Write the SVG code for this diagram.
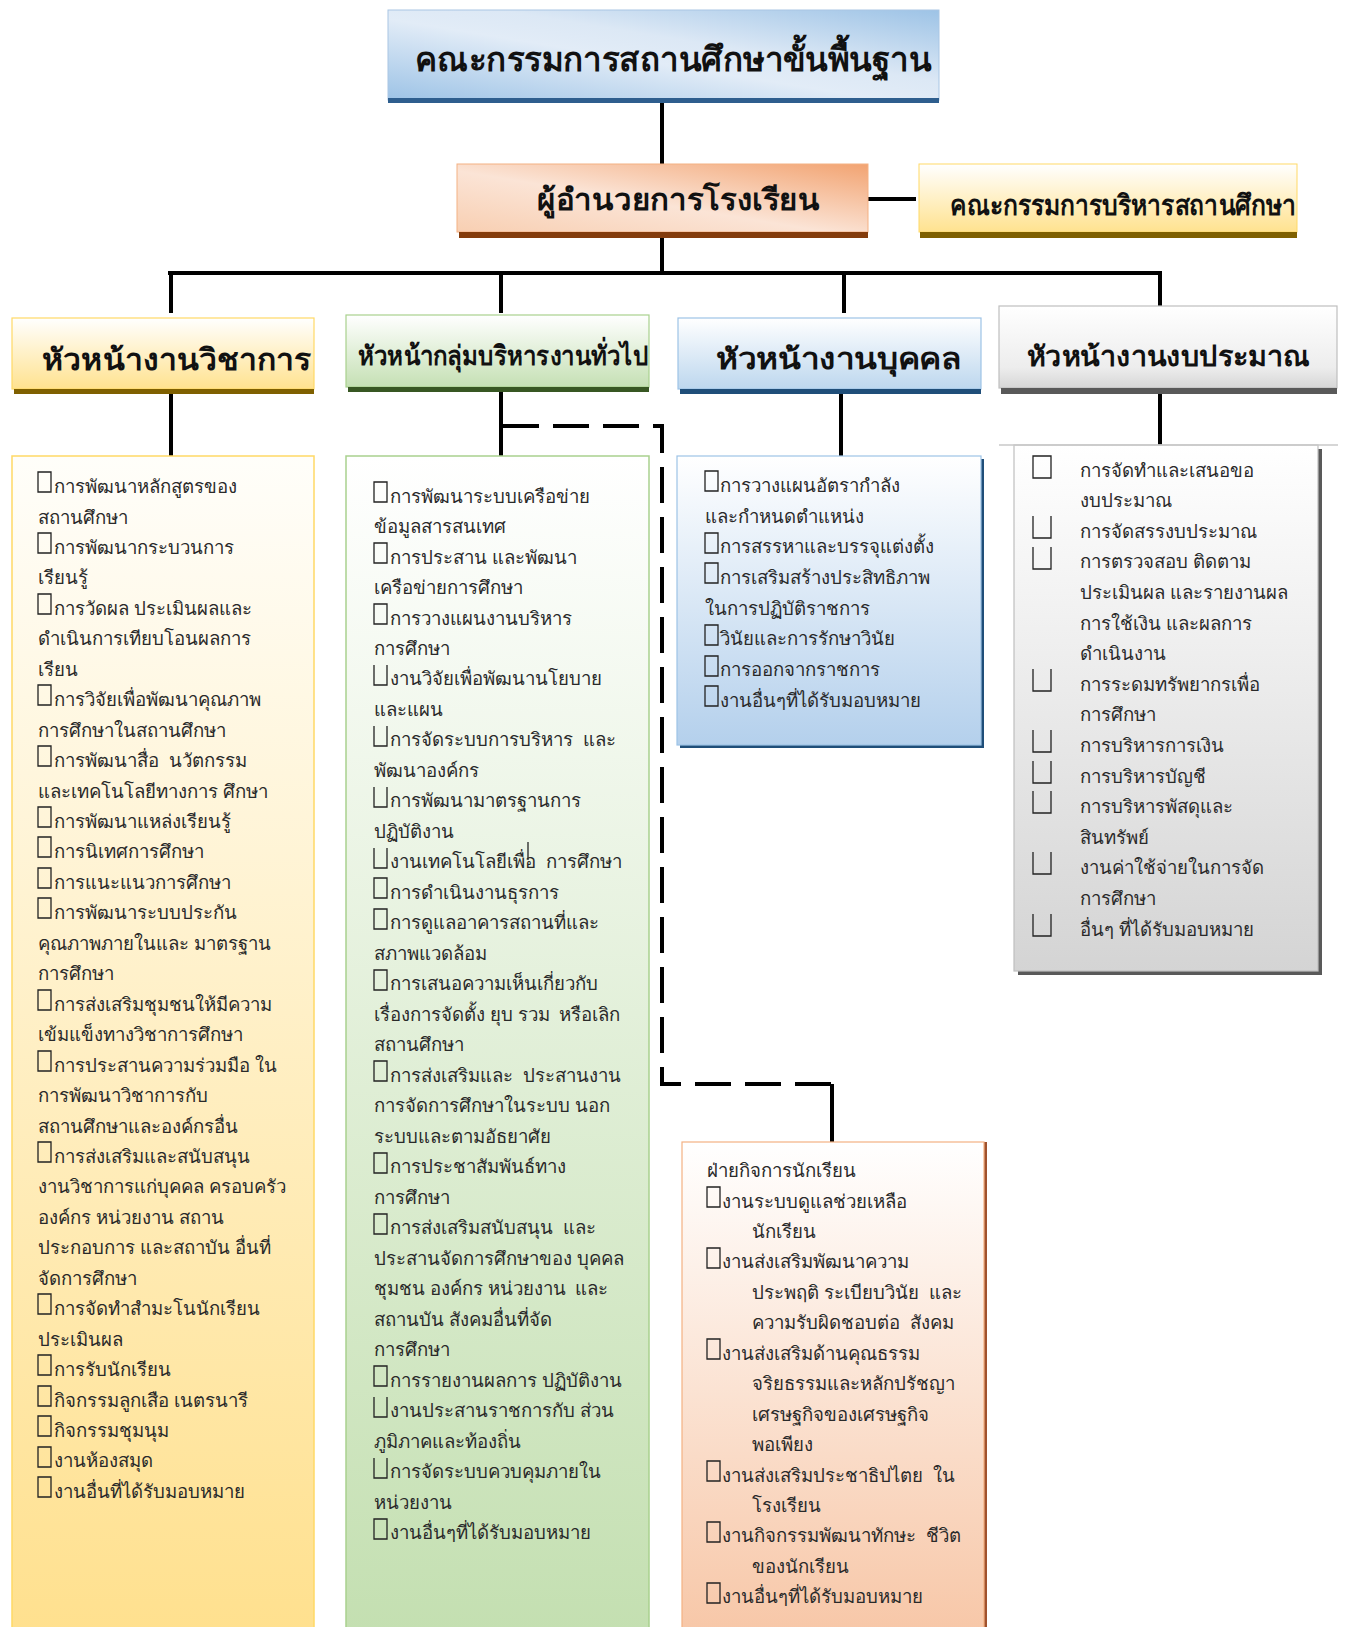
<svg xmlns="http://www.w3.org/2000/svg" width="1348" height="1627" viewBox="0 0 1348 1627">
<defs>
<style>
.t{font-family:"Noto Sans","DejaVu Sans",sans-serif;font-size:18.6px;fill:#2a2a2a;white-space:pre}
.h{font-family:"Noto Sans","DejaVu Sans",sans-serif;font-weight:bold;fill:#111}
.cb{fill:none;stroke:#222;stroke-width:1.3}
.ln{stroke:#000;stroke-width:4;fill:none}
.dash{stroke-dasharray:36 14}
</style>
<linearGradient id="gTop" x1="0" y1="1" x2="1" y2="0"><stop offset="0" stop-color="#9DC3E6"/><stop offset="0.45" stop-color="#E2ECF7"/><stop offset="0.6" stop-color="#DCE8F5"/><stop offset="1" stop-color="#9DC3E6"/></linearGradient>
<linearGradient id="gDir" x1="1" y1="0" x2="0" y2="1"><stop offset="0" stop-color="#F2A371"/><stop offset="0.55" stop-color="#FBE4D6"/><stop offset="1" stop-color="#F8CFB2"/></linearGradient>
<linearGradient id="gYH" x1="0" y1="0" x2="0" y2="1"><stop offset="0" stop-color="#FFFFFF"/><stop offset="1" stop-color="#FFE28F"/></linearGradient>
<linearGradient id="gGH" x1="0" y1="0" x2="0" y2="1"><stop offset="0" stop-color="#FFFFFF"/><stop offset="1" stop-color="#C5E0B4"/></linearGradient>
<linearGradient id="gBH" x1="0" y1="0" x2="0" y2="1"><stop offset="0" stop-color="#FFFFFF"/><stop offset="1" stop-color="#BDD7EE"/></linearGradient>
<linearGradient id="gSH" x1="0" y1="0" x2="0" y2="1"><stop offset="0" stop-color="#FFFFFF"/><stop offset="0.75" stop-color="#EDEDED"/><stop offset="1" stop-color="#D6D6D6"/></linearGradient>
<linearGradient id="gYC" x1="0" y1="0" x2="0" y2="1"><stop offset="0" stop-color="#FFFEFA"/><stop offset="1" stop-color="#FFE08D"/></linearGradient>
<linearGradient id="gGC" x1="0" y1="0" x2="0" y2="1"><stop offset="0" stop-color="#FFFFFF"/><stop offset="1" stop-color="#C3DFB0"/></linearGradient>
<linearGradient id="gBC" x1="0" y1="0" x2="0" y2="1"><stop offset="0" stop-color="#FFFFFF"/><stop offset="1" stop-color="#B4D0EC"/></linearGradient>
<linearGradient id="gSC" x1="0" y1="0" x2="0" y2="1"><stop offset="0" stop-color="#FFFFFF"/><stop offset="1" stop-color="#D4D4D4"/></linearGradient>
<linearGradient id="gOC" x1="0" y1="0" x2="0" y2="1"><stop offset="0" stop-color="#FFFFFF"/><stop offset="1" stop-color="#F7C6A6"/></linearGradient>
<path id="cb" class="cb" d="M0,0h13v20h-13z"/>
<path id="cbo" class="cb" d="M0,0v20h13v-20"/>
<path id="cb4" class="cb" d="M0,0h18v22h-18z"/>
<path id="cb4o" class="cb" d="M0,0v22h18v-22"/>
</defs>
<rect width="1348" height="1627" fill="#FFFFFF"/>

<g id="connectors">
<line class="ln" x1="662" y1="102" x2="662" y2="164"/>
<line class="ln" x1="868" y1="199" x2="916" y2="199"/>
<line class="ln" x1="662" y1="237" x2="662" y2="273"/>
<line class="ln" x1="168" y1="273" x2="1162" y2="273" stroke-width="5"/>
<line class="ln" x1="171" y1="273" x2="171" y2="313"/>
<line class="ln" x1="501" y1="273" x2="501" y2="313"/>
<line class="ln" x1="844" y1="273" x2="844" y2="313"/>
<line class="ln" x1="1160" y1="273" x2="1160" y2="308"/>
<line class="ln" x1="171" y1="394" x2="171" y2="456"/>
<line class="ln" x1="501" y1="392" x2="501" y2="456"/>
<line class="ln" x1="841" y1="394" x2="841" y2="456"/>
<line class="ln" x1="1160" y1="394" x2="1160" y2="445"/>
<path class="ln dash" d="M503,426H662V1084H832"/>
<line class="ln" x1="832" y1="1084" x2="832" y2="1142"/>
</g>

<g id="n-top">
<rect x="388" y="10" width="551" height="90" fill="url(#gTop)" stroke="#A9C6E4" stroke-width="1"/>
<rect x="388" y="98" width="551" height="5" fill="#2E5E8E"/>
<text class="h" x="415" y="71" font-size="34" textLength="516" lengthAdjust="spacingAndGlyphs">คณะกรรมการสถานศึกษาขั้นพื้นฐาน</text>
</g>

<g id="n-director">
<rect x="457" y="164" width="411" height="68" fill="url(#gDir)" stroke="#F4B183" stroke-width="1"/>
<rect x="459" y="232" width="409" height="6" fill="#843C0C"/>
<text class="h" x="537" y="210" font-size="30" textLength="283" lengthAdjust="spacingAndGlyphs">ผู้อำนวยการโรงเรียน</text>
</g>

<g id="n-committee">
<rect x="919" y="164" width="378" height="68" fill="url(#gYH)" stroke="#FFD966" stroke-width="1"/>
<rect x="920" y="232" width="377" height="6" fill="#7F6000"/>
<text class="h" x="950" y="215" font-size="28" textLength="346" lengthAdjust="spacingAndGlyphs">คณะกรรมการบริหารสถานศึกษา</text>
</g>

<g id="h-academic">
<rect x="12" y="318" width="302" height="71" fill="url(#gYH)" stroke="#FFD966" stroke-width="1.2"/>
<rect x="14" y="389" width="300" height="5" fill="#7F6000"/>
<text class="h" x="42" y="370" font-size="30" textLength="269" lengthAdjust="spacingAndGlyphs">หัวหน้างานวิชาการ</text>
</g>

<g id="h-general">
<rect x="346" y="315" width="303" height="72" fill="url(#gGH)" stroke="#A9D18E" stroke-width="1.2"/>
<rect x="348" y="387" width="301" height="5" fill="#385723"/>
<text class="h" x="358" y="365" font-size="27" textLength="290" lengthAdjust="spacingAndGlyphs">หัวหน้ากลุ่มบริหารงานทั่วไป</text>
</g>

<g id="h-personnel">
<rect x="678" y="318" width="303" height="71" fill="url(#gBH)" stroke="#9DC3E6" stroke-width="1.2"/>
<rect x="680" y="389" width="301" height="5" fill="#1F4E79"/>
<text class="h" x="716" y="369" font-size="29" textLength="246" lengthAdjust="spacingAndGlyphs">หัวหน้างานบุคคล</text>
</g>

<g id="h-budget">
<rect x="999" y="306" width="338" height="82" fill="url(#gSH)" stroke="#BFBFBF" stroke-width="1.2"/>
<rect x="1001" y="388" width="336" height="6" fill="#595959"/>
<text class="h" x="1027" y="366" font-size="28" textLength="283" lengthAdjust="spacingAndGlyphs">หัวหน้างานงบประมาณ</text>
</g>

<g id="c-academic">
<rect x="12" y="456" width="302" height="1190" fill="url(#gYC)" stroke="#FFD966" stroke-width="1.5"/>
<use href="#cb" x="38" y="472"/><text class="t" x="54" y="493">การพัฒนาหลักสูตรของ</text>
<text class="t" x="38" y="523.5">สถานศึกษา</text>
<use href="#cb" x="38" y="533"/><text class="t" x="54" y="553.9">การพัฒนากระบวนการ</text>
<text class="t" x="38" y="584.4">เรียนรู้</text>
<use href="#cb" x="38" y="594"/><text class="t" x="54" y="614.8">การวัดผล ประเมินผลและ</text>
<text class="t" x="38" y="645.3">ดำเนินการเทียบโอนผลการ</text>
<text class="t" x="38" y="675.7">เรียน</text>
<use href="#cb" x="38" y="685"/><text class="t" x="54" y="706.2">การวิจัยเพื่อพัฒนาคุณภาพ</text>
<text class="t" x="38" y="736.6">การศึกษาในสถานศึกษา</text>
<use href="#cb" x="38" y="746"/><text class="t" x="54" y="767.1">การพัฒนาสื่อ  นวัตกรรม</text>
<text class="t" x="38" y="797.5">และเทคโนโลยีทางการ ศึกษา</text>
<use href="#cb" x="38" y="807"/><text class="t" x="54" y="828">การพัฒนาแหล่งเรียนรู้</text>
<use href="#cb" x="38" y="837"/><text class="t" x="54" y="858.4">การนิเทศการศึกษา</text>
<use href="#cb" x="38" y="868"/><text class="t" x="54" y="888.9">การแนะแนวการศึกษา</text>
<use href="#cb" x="38" y="898"/><text class="t" x="54" y="919.3">การพัฒนาระบบประกัน</text>
<text class="t" x="38" y="949.8">คุณภาพภายในและ มาตรฐาน</text>
<text class="t" x="38" y="980.2">การศึกษา</text>
<use href="#cb" x="38" y="990"/><text class="t" x="54" y="1010.7">การส่งเสริมชุมชนให้มีความ</text>
<text class="t" x="38" y="1041.1">เข้มแข็งทางวิชาการศึกษา</text>
<use href="#cb" x="38" y="1051"/><text class="t" x="54" y="1071.6">การประสานความร่วมมือ ใน</text>
<text class="t" x="38" y="1102">การพัฒนาวิชาการกับ</text>
<text class="t" x="38" y="1132.5">สถานศึกษาและองค์กรอื่น</text>
<use href="#cb" x="38" y="1142"/><text class="t" x="54" y="1162.9">การส่งเสริมและสนับสนุน</text>
<text class="t" x="38" y="1193.4">งานวิชาการแก่บุคคล ครอบครัว</text>
<text class="t" x="38" y="1223.8">องค์กร หน่วยงาน สถาน</text>
<text class="t" x="38" y="1254.3">ประกอบการ และสถาบัน อื่นที่</text>
<text class="t" x="38" y="1284.7">จัดการศึกษา</text>
<use href="#cb" x="38" y="1294"/><text class="t" x="54" y="1315.2">การจัดทำสำมะโนนักเรียน</text>
<text class="t" x="38" y="1345.6">ประเมินผล</text>
<use href="#cb" x="38" y="1355"/><text class="t" x="54" y="1376.1">การรับนักเรียน</text>
<use href="#cb" x="38" y="1386"/><text class="t" x="54" y="1406.5">กิจกรรมลูกเสือ เนตรนารี</text>
<use href="#cb" x="38" y="1416"/><text class="t" x="54" y="1437">กิจกรรมชุมนุม</text>
<use href="#cb" x="38" y="1447"/><text class="t" x="54" y="1467.4">งานห้องสมุด</text>
<use href="#cb" x="38" y="1477"/><text class="t" x="54" y="1497.9">งานอื่นที่ได้รับมอบหมาย</text>
</g>

<g id="c-general">
<rect x="346" y="456" width="303" height="1190" fill="url(#gGC)" stroke="#A9D18E" stroke-width="1.5"/>
<use href="#cb" x="374" y="482"/><text class="t" x="390" y="502.5">การพัฒนาระบบเครือข่าย</text>
<text class="t" x="374" y="533">ข้อมูลสารสนเทศ</text>
<use href="#cb" x="374" y="543"/><text class="t" x="390" y="563.5">การประสาน และพัฒนา</text>
<text class="t" x="374" y="594">เครือข่ายการศึกษา</text>
<use href="#cb" x="374" y="604"/><text class="t" x="390" y="624.5">การวางแผนงานบริหาร</text>
<text class="t" x="374" y="654.9">การศึกษา</text>
<use href="#cbo" x="374" y="665"/><text class="t" x="390" y="685.4">งานวิจัยเพื่อพัฒนานโยบาย</text>
<text class="t" x="374" y="715.9">และแผน</text>
<use href="#cbo" x="374" y="726"/><text class="t" x="390" y="746.4">การจัดระบบการบริหาร  และ</text>
<text class="t" x="374" y="776.9">พัฒนาองค์กร</text>
<use href="#cbo" x="374" y="787"/><text class="t" x="390" y="807.4">การพัฒนามาตรฐานการ</text>
<text class="t" x="374" y="837.9">ปฏิบัติงาน</text>
<use href="#cbo" x="374" y="848"/><text class="t" x="390" y="868.4">งานเทคโนโลยีเพื่อ  การศึกษา</text>
<line x1="528" y1="842" x2="528" y2="860" stroke="#222" stroke-width="1.3"/>
<use href="#cb" x="374" y="878"/><text class="t" x="390" y="898.9">การดำเนินงานธุรการ</text>
<use href="#cb" x="374" y="909"/><text class="t" x="390" y="929.4">การดูแลอาคารสถานที่และ</text>
<text class="t" x="374" y="959.9">สภาพแวดล้อม</text>
<use href="#cb" x="374" y="970"/><text class="t" x="390" y="990.3">การเสนอความเห็นเกี่ยวกับ</text>
<text class="t" x="374" y="1020.8">เรื่องการจัดตั้ง ยุบ รวม  หรือเลิก</text>
<text class="t" x="374" y="1051.3">สถานศึกษา</text>
<use href="#cb" x="374" y="1061"/><text class="t" x="390" y="1081.8">การส่งเสริมและ  ประสานงาน</text>
<text class="t" x="374" y="1112.3">การจัดการศึกษาในระบบ นอก</text>
<text class="t" x="374" y="1142.8">ระบบและตามอัธยาศัย</text>
<use href="#cb" x="374" y="1153"/><text class="t" x="390" y="1173.3">การประชาสัมพันธ์ทาง</text>
<text class="t" x="374" y="1203.8">การศึกษา</text>
<use href="#cb" x="374" y="1214"/><text class="t" x="390" y="1234.3">การส่งเสริมสนับสนุน  และ</text>
<text class="t" x="374" y="1264.8">ประสานจัดการศึกษาของ บุคคล</text>
<text class="t" x="374" y="1295.2">ชุมชน องค์กร หน่วยงาน  และ</text>
<text class="t" x="374" y="1325.7">สถานบัน สังคมอื่นที่จัด</text>
<text class="t" x="374" y="1356.2">การศึกษา</text>
<use href="#cb" x="374" y="1366"/><text class="t" x="390" y="1386.7">การรายงานผลการ ปฏิบัติงาน</text>
<use href="#cbo" x="374" y="1397"/><text class="t" x="390" y="1417.2">งานประสานราชการกับ ส่วน</text>
<text class="t" x="374" y="1447.7">ภูมิภาคและท้องถิ่น</text>
<use href="#cbo" x="374" y="1458"/><text class="t" x="390" y="1478.2">การจัดระบบควบคุมภายใน</text>
<text class="t" x="374" y="1508.7">หน่วยงาน</text>
<use href="#cb" x="374" y="1519"/><text class="t" x="390" y="1539.2">งานอื่นๆที่ได้รับมอบหมาย</text>
</g>

<g id="c-personnel">
<rect x="680" y="459" width="304" height="289" fill="#1F4E79"/>
<rect x="677" y="456" width="304" height="289" fill="url(#gBC)" stroke="#9DC3E6" stroke-width="1.2"/>
<use href="#cb" x="705" y="471"/><text class="t" x="720" y="492">การวางแผนอัตรากำลัง</text>
<text class="t" x="705" y="522.7">และกำหนดตำแหน่ง</text>
<use href="#cb" x="705" y="533"/><text class="t" x="720" y="553.4">การสรรหาและบรรจุแต่งตั้ง</text>
<use href="#cb" x="705" y="563"/><text class="t" x="720" y="584">การเสริมสร้างประสิทธิภาพ</text>
<text class="t" x="705" y="614.7">ในการปฏิบัติราชการ</text>
<use href="#cb" x="705" y="625"/><text class="t" x="720" y="645.4">วินัยและการรักษาวินัย</text>
<use href="#cb" x="705" y="656"/><text class="t" x="720" y="676.1">การออกจากราชการ</text>
<use href="#cb" x="705" y="686"/><text class="t" x="720" y="706.8">งานอื่นๆที่ได้รับมอบหมาย</text>
</g>

<g id="c-budget">
<rect x="1018" y="449" width="304" height="526" fill="#595959"/>
<rect x="1014" y="445" width="304" height="526" fill="url(#gSC)" stroke="#BFBFBF" stroke-width="1.2"/>
<line x1="999" y1="445" x2="1338" y2="445" stroke="#C8C8C8" stroke-width="1.5"/>
<use href="#cb4" x="1033" y="456"/><text class="t" x="1080" y="476.5">การจัดทำและเสนอขอ</text>
<text class="t" x="1080" y="507.1">งบประมาณ</text>
<use href="#cb4o" x="1033" y="516"/><text class="t" x="1080" y="537.7">การจัดสรรงบประมาณ</text>
<use href="#cb4o" x="1033" y="547"/><text class="t" x="1080" y="568.3">การตรวจสอบ ติดตาม</text>
<text class="t" x="1080" y="598.9">ประเมินผล และรายงานผล</text>
<text class="t" x="1080" y="629.5">การใช้เงิน และผลการ</text>
<text class="t" x="1080" y="660.1">ดำเนินงาน</text>
<use href="#cb4o" x="1033" y="669"/><text class="t" x="1080" y="690.7">การระดมทรัพยากรเพื่อ</text>
<text class="t" x="1080" y="721.3">การศึกษา</text>
<use href="#cb4o" x="1033" y="730"/><text class="t" x="1080" y="751.9">การบริหารการเงิน</text>
<use href="#cb4o" x="1033" y="761"/><text class="t" x="1080" y="782.5">การบริหารบัญชี</text>
<use href="#cb4o" x="1033" y="791"/><text class="t" x="1080" y="813.1">การบริหารพัสดุและ</text>
<text class="t" x="1080" y="843.7">สินทรัพย์</text>
<use href="#cb4o" x="1033" y="852"/><text class="t" x="1080" y="874.3">งานค่าใช้จ่ายในการจัด</text>
<text class="t" x="1080" y="904.9">การศึกษา</text>
<use href="#cb4o" x="1033" y="914"/><text class="t" x="1080" y="935.5">อื่นๆ ที่ได้รับมอบหมาย</text>
</g>

<g id="c-student">
<rect x="685" y="1142" width="302" height="500" fill="#A0522D"/>
<rect x="682" y="1142" width="302" height="500" fill="url(#gOC)" stroke="#F4B183" stroke-width="1.2"/>
<text class="t" x="707" y="1177">ฝ่ายกิจการนักเรียน</text>
<use href="#cb" x="707" y="1187"/><text class="t" x="722" y="1207.5">งานระบบดูแลช่วยเหลือ</text>
<text class="t" x="752" y="1237.9">นักเรียน</text>
<use href="#cb" x="707" y="1248"/><text class="t" x="722" y="1268.4">งานส่งเสริมพัฒนาความ</text>
<text class="t" x="752" y="1298.8">ประพฤติ ระเบียบวินัย  และ</text>
<text class="t" x="752" y="1329.3">ความรับผิดชอบต่อ  สังคม</text>
<use href="#cb" x="707" y="1339"/><text class="t" x="722" y="1359.7">งานส่งเสริมด้านคุณธรรม</text>
<text class="t" x="752" y="1390.2">จริยธรรมและหลักปรัชญา</text>
<text class="t" x="752" y="1420.6">เศรษฐกิจของเศรษฐกิจ</text>
<text class="t" x="752" y="1451.1">พอเพียง</text>
<use href="#cb" x="707" y="1461"/><text class="t" x="722" y="1481.5">งานส่งเสริมประชาธิปไตย  ใน</text>
<text class="t" x="752" y="1512">โรงเรียน</text>
<use href="#cb" x="707" y="1522"/><text class="t" x="722" y="1542.4">งานกิจกรรมพัฒนาทักษะ  ชีวิต</text>
<text class="t" x="752" y="1572.9">ของนักเรียน</text>
<use href="#cb" x="707" y="1583"/><text class="t" x="722" y="1603.3">งานอื่นๆที่ได้รับมอบหมาย</text>
</g>
</svg>
